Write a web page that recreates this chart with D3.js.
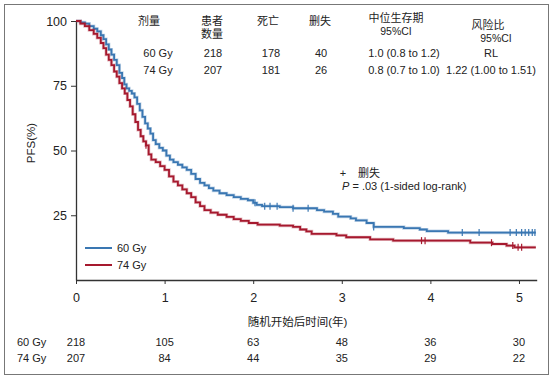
<!DOCTYPE html>
<html>
<head>
<meta charset="utf-8">
<script src="https://cdn.jsdelivr.net/npm/d3@7"></script>
<style>
  html, body { margin: 0; padding: 0; background: #fff; }
  svg { display: block; font-family: "Liberation Sans", Arial, "Noto Sans CJK SC", sans-serif; }
  .cjk { font-family: "Liberation Sans", "Noto Sans CJK SC", sans-serif; }
</style>
</head>
<body>
<svg id="chart" width="553" height="379"></svg>
<script>
// ---- Data ----
const groups = ["60 Gy", "74 Gy"];
const times60 = [0,0.05,0.10,0.15,0.20,0.24,0.28,0.31,0.34,0.37,0.40,0.43,0.46,0.49,0.52,0.545,0.57,0.60,0.63,0.66,0.69,0.72,0.75,0.78,0.81,0.84,0.87,0.90,0.94,0.98,1.02,1.06,1.10,1.15,1.20,1.25,1.30,1.35,1.40,1.45,1.50,1.55,1.62,1.70,1.78,1.86,1.94,2.00,2.04,2.10,2.30,2.45,2.72,2.80,2.90,2.96,3.10,3.16,3.28,3.36,3.70,3.88,3.96,4.20,5.19];
const surv60  = [100,99.5,99,98,97,96,94.5,93,91,89,87,85,83,80,78,75.5,74,73,72,70.5,68,65.5,63,60.5,58.5,56.5,54,52.5,51,50,48,46.5,45.5,44.5,43.5,42.5,41,39,37.5,36.5,35.5,34.5,33.5,32.8,32,31.3,30.8,29.8,29,28.5,28.1,27.7,27,26.4,25.5,24.5,23.8,23,22,20.5,20,19.5,18.9,18.3,18.3];
const times74 = [0,0.05,0.10,0.15,0.20,0.24,0.28,0.31,0.34,0.37,0.40,0.43,0.46,0.49,0.52,0.55,0.58,0.61,0.64,0.67,0.70,0.73,0.76,0.79,0.82,0.85,0.90,0.95,1.00,1.05,1.10,1.15,1.20,1.25,1.30,1.35,1.40,1.45,1.52,1.60,1.70,1.78,1.86,1.95,2.05,2.30,2.45,2.53,2.60,2.66,2.94,3.05,3.32,3.58,4.45,4.70,4.86,4.95,5.19];
const surv74  = [100,99,98,96.5,95,93.5,91.5,89.5,87,85,83,80.5,78.5,76,74,72,69.5,67,64,61,58,55.5,53.5,52,48.5,46.5,45.5,44,42.5,40,38,36.5,35,33.5,32,30,28.5,27,26,25.2,24.4,23.5,22.8,22,21.4,21,20.5,19.5,18.8,17.8,17.2,16.5,15.7,15.2,14.4,13.9,13.3,12.6,12.6];
const censor60 = [2.02,2.13,2.19,2.27,2.45,2.62,3.36,4.36,4.55,4.90,4.97,5.03,5.07,5.11,5.15,5.18];
const censor74 = [0.79,3.90,3.94,4.69,4.93,4.99,5.03];
const xTicks = [0,1,2,3,4,5];
const yTicks = [25,50,75,100];
const risk60 = [218,105,63,48,36,30];
const risk74 = [207,84,44,35,29,22];
const headerCols = ["剂量", "患者\n数量", "死亡", "删失", "中位生存期\n95%CI", "风险比\n95%CI"];
const row60 = ["60 Gy", "218", "178", "40", "1.0 (0.8 to 1.2)", "RL"];
const row74 = ["74 Gy", "207", "181", "26", "0.8 (0.7 to 1.0)", "1.22 (1.00 to 1.51)"];

// ---- Setup ----
const svg = d3.select("#chart");
const blue = "#3a77b2", red = "#a6192e", ink = "#222";
const x = d3.scaleLinear().domain([0, 5.2]).range([76, 536.7]);
const y = d3.scaleLinear().domain([0, 100]).range([280, 21]);

// frame
svg.append("rect").attr("x", 4.5).attr("y", 4.5).attr("width", 544).attr("height", 370)
  .attr("fill", "none").attr("stroke", "#777").attr("stroke-width", 1);

// axes
const xAxis = d3.axisBottom(x).tickValues(xTicks).tickFormat(d3.format("d")).tickSize(4).tickSizeOuter(0).tickPadding(9);
const gx = svg.append("g").attr("transform", "translate(0,280)").call(xAxis);
gx.select(".domain").attr("stroke", "#333").attr("stroke-width", 1.3);
gx.selectAll(".tick line").attr("stroke", "#333");
gx.selectAll("text").attr("font-size", 12.5).attr("fill", ink);

const yAxis = d3.axisLeft(y).tickValues(yTicks).tickSize(5).tickSizeOuter(0).tickPadding(4);
const gy = svg.append("g").attr("transform", "translate(76,0)").call(yAxis);
gy.select(".domain").attr("stroke", "#333").attr("stroke-width", 1.3);
gy.selectAll(".tick line").attr("stroke", "#333");
gy.selectAll("text").attr("font-size", 12.5).attr("fill", ink);

// axis titles
svg.append("text").attr("class", "cjk").attr("x", x(2.5)).attr("y", 322)
  .attr("text-anchor", "middle").attr("dominant-baseline", "central")
  .attr("font-size", 11.5).attr("fill", ink).text("随机开始后时间(年)");
svg.append("text").attr("transform", "translate(31,143) rotate(-90)")
  .attr("text-anchor", "middle").attr("dominant-baseline", "central")
  .attr("font-size", 11.5).attr("fill", ink).text("PFS(%)");

// curves
const line = d3.line().x(d => x(d[0])).y(d => y(d[1])).curve(d3.curveStepAfter);
function stepAt(ts, ss, t) {
  let v = ss[0];
  for (let i = 0; i < ts.length; i++) { if (ts[i] <= t) v = ss[i]; }
  return v;
}
const series = [
  {t: times60, s: surv60, c: censor60, color: blue},
  {t: times74, s: surv74, c: censor74, color: red}
];
series.forEach(sr => {
  const pts = sr.t.map((t, i) => [t, sr.s[i]]);
  svg.append("path").datum(pts).attr("d", line).attr("fill", "none")
    .attr("stroke", sr.color).attr("stroke-opacity", 0.3).attr("stroke-width", 3.2);
  svg.append("path").datum(pts).attr("d", line).attr("fill", "none")
    .attr("stroke", sr.color).attr("stroke-width", 1.8);
  svg.selectAll(null).data(sr.c).enter().append("line")
    .attr("x1", d => x(d)).attr("x2", d => x(d))
    .attr("y1", d => y(stepAt(sr.t, sr.s, d)) - 3.5)
    .attr("y2", d => y(stepAt(sr.t, sr.s, d)) + 3.5)
    .attr("stroke", sr.color).attr("stroke-width", 1.2);
});

// legend
const legend = [{name: groups[0], color: blue, yy: 248}, {name: groups[1], color: red, yy: 265}];
legend.forEach(l => {
  svg.append("line").attr("x1", 85).attr("x2", 112).attr("y1", l.yy).attr("y2", l.yy)
    .attr("stroke", l.color).attr("stroke-width", 2);
  svg.append("text").attr("x", 117).attr("y", l.yy).attr("dominant-baseline", "central")
    .attr("font-size", 11).attr("fill", ink).text(l.name);
});

// header table
const colX = [149, 212, 268, 320, 396, 488];
const colHeadY = [21, 21, 21, 21, 18, 25];
headerCols.forEach((h, i) => {
  const lines = h.split("\n");
  lines.forEach((ln, j) => {
    svg.append("text").attr("class", "cjk").attr("x", colX[i] + (j > 0 && i === 5 ? 8 : 0))
      .attr("y", colHeadY[i] + j * 12.5)
      .attr("text-anchor", "middle").attr("dominant-baseline", "central")
      .attr("font-size", /[0-9]/.test(ln) ? 10.5 : 11).attr("fill", ink).text(ln);
  });
});
const valX = [158, 213, 271, 321, 404, 491];
[[row60, 53], [row74, 70]].forEach(([row, yy]) => {
  row.forEach((v, i) => {
    svg.append("text").attr("x", valX[i]).attr("y", yy)
      .attr("text-anchor", "middle").attr("dominant-baseline", "central")
      .attr("font-size", 11).attr("fill", ink).text(v);
  });
});

// annotation
svg.append("text").attr("x", 343).attr("y", 173).attr("text-anchor", "middle").attr("dominant-baseline", "central")
  .attr("font-size", 11).attr("fill", ink).text("+");
svg.append("text").attr("class", "cjk").attr("x", 358).attr("y", 173).attr("dominant-baseline", "central")
  .attr("font-size", 11).attr("fill", ink).text("删失");
const pt = svg.append("text").attr("x", 342).attr("y", 186).attr("dominant-baseline", "central")
  .attr("font-size", 11).attr("fill", ink);
pt.append("tspan").attr("font-style", "italic").text("P");
pt.append("tspan").text(" = .03 (1-sided log-rank)");

// number at risk
[[groups[0], risk60, 342], [groups[1], risk74, 358]].forEach(([g, vals, yy]) => {
  svg.append("text").attr("x", 17).attr("y", yy).attr("dominant-baseline", "central")
    .attr("font-size", 11).attr("fill", ink).text(g);
  vals.forEach((v, i) => {
    svg.append("text").attr("x", x(xTicks[i])).attr("y", yy)
      .attr("text-anchor", "middle").attr("dominant-baseline", "central")
      .attr("font-size", 11).attr("fill", ink).text(v);
  });
});
</script>
</body>
</html>
